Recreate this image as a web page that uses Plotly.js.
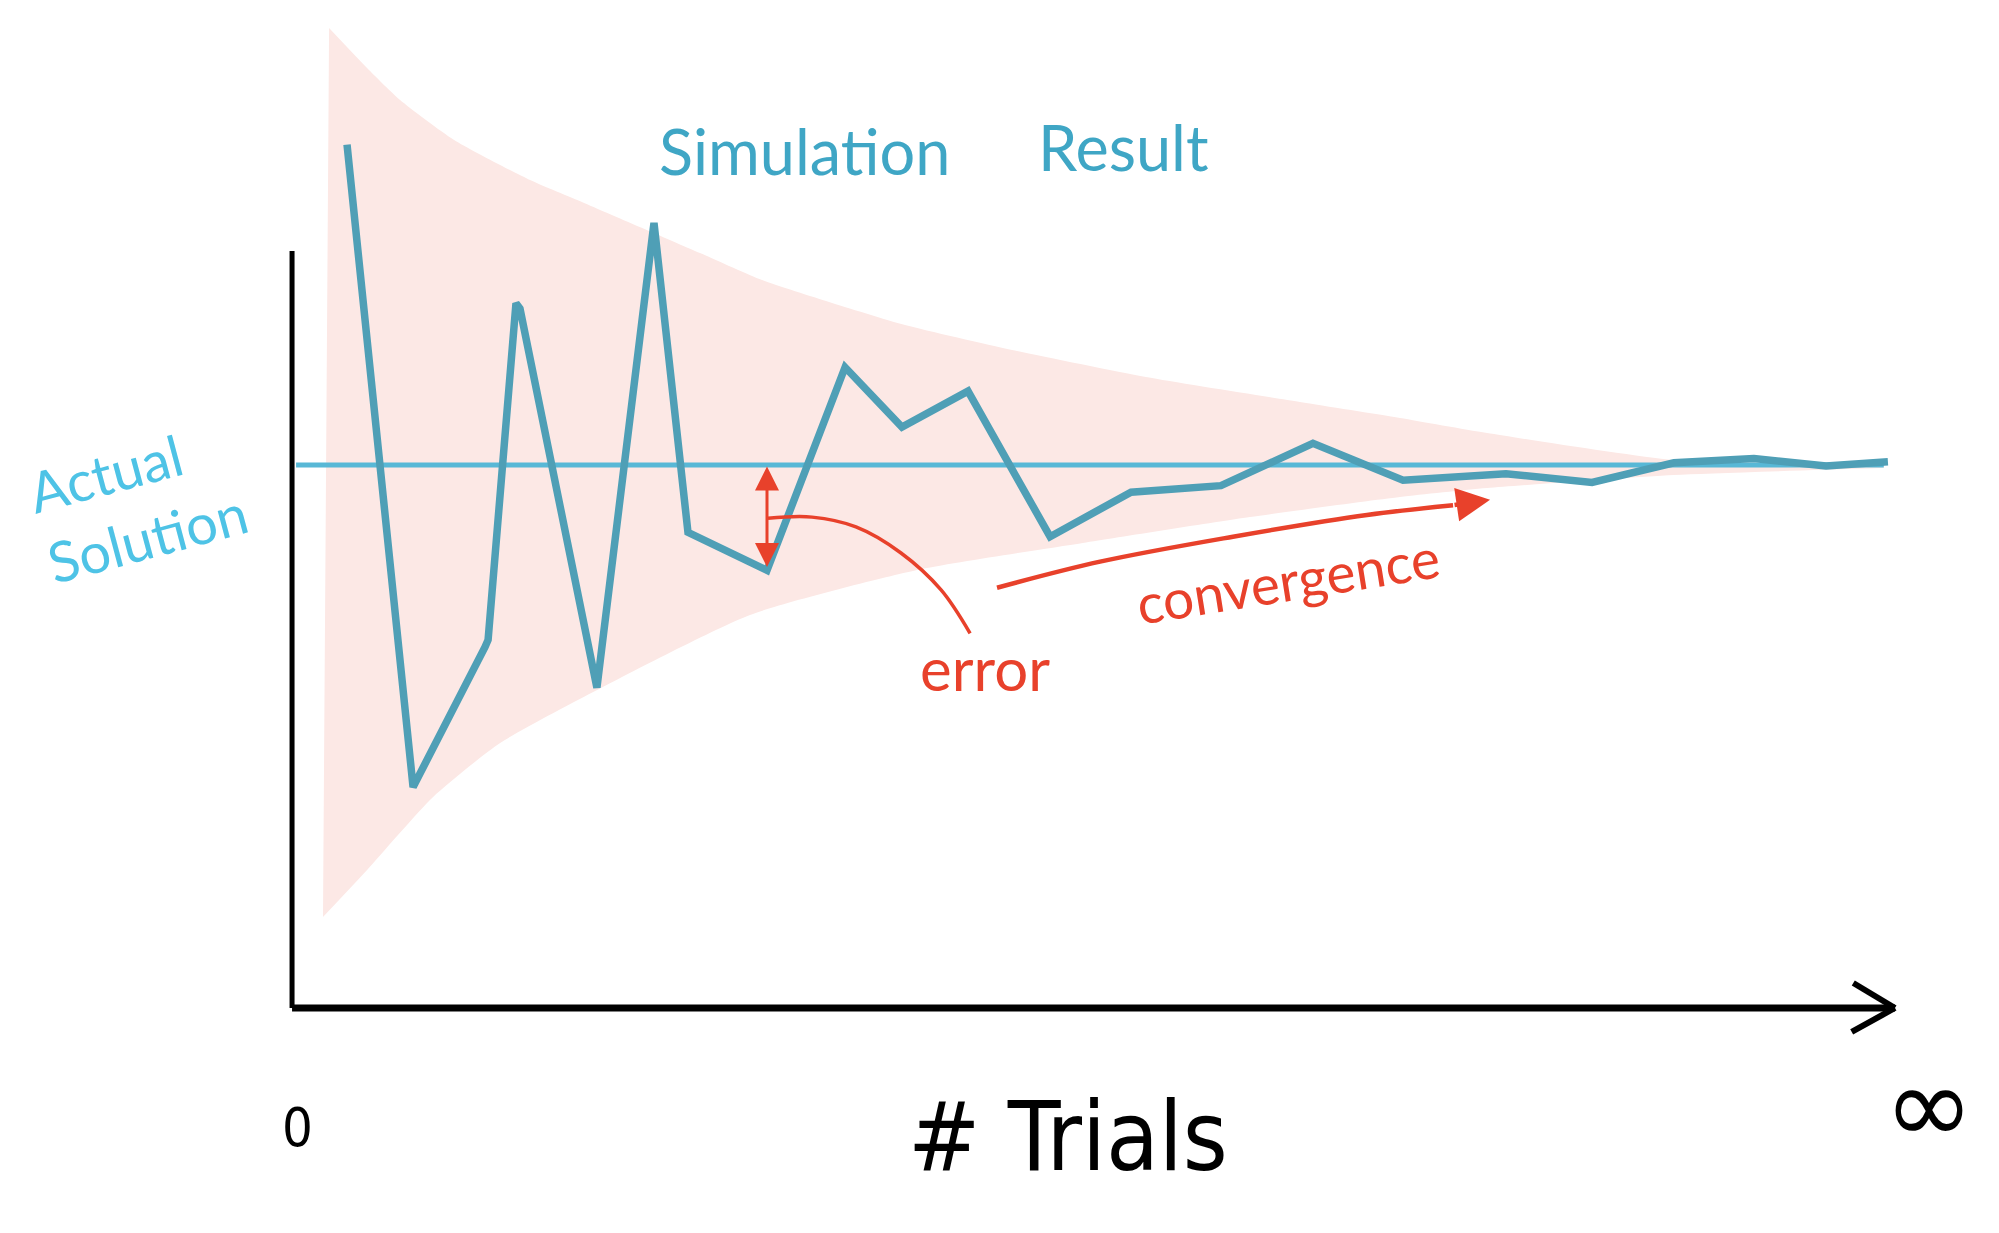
<!DOCTYPE html>
<html>
<head>
<meta charset="utf-8">
<script src="https://cdn.plot.ly/plotly-3.0.1.min.js"></script>
<style>html,body{margin:0;padding:0;background:#fff;}#chart{width:1999px;height:1233px;}</style>
</head>
<body>
<div id="chart"></div>
<script>
// ---- data (x: number of trials, scaled 0..100 where 100 = "∞"; y: result value, actual solution = 50)
const actualSolution = 50;
const trialsMax = 100;
const yAxisTop = 69.7;

const simX = [3.43, 7.55, 12.04, 12.23, 13.97, 14.22, 19.02, 22.58, 24.70, 29.63, 34.50, 38.05, 42.17, 47.29, 52.34, 57.95, 63.69, 69.31, 75.73, 81.10, 86.21, 91.20, 95.70, 99.56];
const simY = [79.5, 20.35, 33.24, 33.9, 64.9, 64.4, 29.5, 72.3, 43.8, 40.3, 59.0, 53.5, 56.8, 43.4, 47.5, 48.1, 52.0, 48.6, 49.2, 48.4, 50.2, 50.6, 49.9, 50.3];

const bandUpperX = [2.31, 4.80, 6.74, 10.11, 14.85, 18.22, 25.45, 29.32, 33.50, 38.24, 44.92, 53.27, 62.88, 69.12, 74.55, 86.21, 99.31];
const bandUpperY = [90.24, 86.37, 83.61, 79.93, 76.24, 74.13, 69.52, 67.03, 65.01, 62.89, 60.59, 58.10, 55.80, 54.33, 52.95, 50.46, 49.91];
const bandLowerX = [1.93, 4.68, 8.80, 12.98, 19.03, 28.57, 38.99, 49.34, 59.76, 69.12, 74.55, 86.21, 99.31];
const bandLowerY = [8.38, 12.71, 19.43, 24.40, 29.28, 36.19, 40.33, 42.82, 45.21, 47.05, 47.88, 49.08, 49.72];

const actualX = [0.25, 99.3];

const errorTrialX = 29.63;
const errorLowY = 40.6;
const errorCurveX = [29.69, 32.44, 35.18, 37.99, 40.49, 42.30];
const errorCurveY = [45.1, 45.2, 44.3, 41.9, 38.5, 34.5];

const convX = [43.98, 50.41, 58.70, 67.06, 72.43];
const convY = [38.7, 41.1, 43.4, 45.4, 46.3];
const convTip = [74.74, 46.8];

const tickLabels = ["0", "∞"];
const tickPos = [0, trialsMax];

// ---- styles
const RED = '#e8412b';
const SIM = '#4f9fb6';
const ACT = '#58b8d6';
const TXT_BLUE = '#3fa6c5';
const TXT_CYAN = '#4ec3e6';
const PINK = '#fce8e5';
const HAND = 'Lato, "Noto Sans", sans-serif';
const NARROW = '"Liberation Sans Narrow", "DejaVu Sans Condensed", "Roboto Condensed", "Arial Narrow", Lato, sans-serif';

const traces = [
  {x: bandLowerX, y: bandLowerY, type: 'scatter', mode: 'lines',
   line: {width: 0, color: PINK, shape: 'spline', smoothing: 0.6}, hoverinfo: 'skip'},
  {x: bandUpperX, y: bandUpperY, type: 'scatter', mode: 'lines', fill: 'tonexty', fillcolor: PINK,
   line: {width: 0, color: PINK, shape: 'spline', smoothing: 0.6}, hoverinfo: 'skip'},
  {x: actualX, y: actualX.map(() => actualSolution), type: 'scatter', mode: 'lines',
   line: {color: ACT, width: 5}},
  {x: simX, y: simY, type: 'scatter', mode: 'lines',
   line: {color: SIM, width: 7.5}},
  {x: errorCurveX, y: errorCurveY, type: 'scatter', mode: 'lines',
   line: {color: RED, width: 3.5, shape: 'spline'}},
  {x: convX, y: convY, type: 'scatter', mode: 'lines',
   line: {color: RED, width: 4.5, shape: 'spline'}}
];

const annotations = [
  // error double arrow
  {x: errorTrialX, y: errorLowY, ax: errorTrialX, ay: actualSolution, xref: 'x', yref: 'y', axref: 'x', ayref: 'y',
   text: '', showarrow: true, arrowside: 'end+start', arrowhead: 2, arrowsize: 1.6, arrowwidth: 3, arrowcolor: RED},
  // convergence arrow head
  {x: convTip[0], y: convTip[1], ax: convX[convX.length-1], ay: convY[convY.length-1], xref: 'x', yref: 'y', axref: 'x', ayref: 'y',
   text: '', showarrow: true, arrowhead: 2, arrowsize: 1.5, arrowwidth: 4.5, arrowcolor: RED},
  {x: 32.0, y: 79.0, xref: 'x', yref: 'y', text: 'Simulation', showarrow: false,
   font: {family: HAND, size: 63, color: TXT_BLUE}},
  {x: 51.84, y: 79.3, xref: 'x', yref: 'y', text: 'Result', showarrow: false,
   font: {family: HAND, size: 63, color: TXT_BLUE}},
  {x: -9.6, y: 46.6, xref: 'x', yref: 'y', text: 'Actual<br>Solution', showarrow: false, align: 'left',
   textangle: -15, font: {family: HAND, size: 56, color: TXT_CYAN}},
  {x: 43.23, y: 31.3, xref: 'x', yref: 'y', text: 'error', showarrow: false,
   font: {family: HAND, size: 60, color: RED}},
  {x: 62.13, y: 39.4, xref: 'x', yref: 'y', text: 'convergence', showarrow: false, textangle: -9,
   font: {family: HAND, size: 55, color: RED}},
  {x: tickPos[0] + 0.31, y: -10.96, xref: 'x', yref: 'y', text: tickLabels[0], showarrow: false,
   font: {family: NARROW, size: 54, color: '#000'}},
  {x: tickPos[1] + 2.1, y: -9.0, xref: 'x', yref: 'y', text: tickLabels[1], showarrow: false,
   font: {family: '"DejaVu Sans", sans-serif', size: 108, color: '#000'}},
  {x: 48.4, y: -11.9, xref: 'x', yref: 'y', text: '# Trials', showarrow: false,
   font: {family: NARROW, size: 96, color: '#000'}}
];

const shapes = [
  {type: 'line', xref: 'x', yref: 'y', x0: 0, y0: 0, x1: 0, y1: yAxisTop, line: {color: '#000', width: 5}},
  {type: 'line', xref: 'x', yref: 'y', x0: 0, y0: 0, x1: trialsMax, y1: 0, line: {color: '#000', width: 7}},
  {type: 'line', xref: 'x', yref: 'y', x0: trialsMax, y0: 0, x1: trialsMax - 2.6, y1: 2.3, line: {color: '#000', width: 6}},
  {type: 'line', xref: 'x', yref: 'y', x0: trialsMax, y0: 0, x1: trialsMax - 2.7, y1: -2.2, line: {color: '#000', width: 6}}
];

const layout = {
  width: 1999, height: 1233,
  margin: {l: 0, r: 0, t: 0, b: 0, pad: 0},
  paper_bgcolor: '#fff', plot_bgcolor: '#fff',
  showlegend: false,
  xaxis: {range: [-18.22, 106.49], visible: false, fixedrange: true},
  yaxis: {range: [-20.72, 92.82], visible: false, fixedrange: true},
  annotations: annotations,
  shapes: shapes
};

Plotly.newPlot('chart', traces, layout, {staticPlot: true, displayModeBar: false});
</script>
</body>
</html>
